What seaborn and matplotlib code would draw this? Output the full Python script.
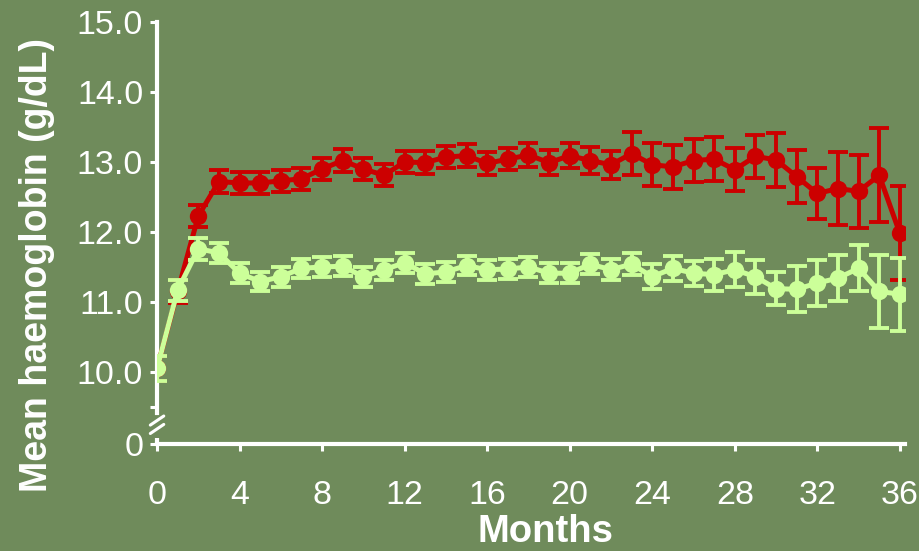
import numpy as np
import pandas as pd
import matplotlib
matplotlib.use("Agg")
import matplotlib.pyplot as plt
import seaborn as sns

# Mean haemoglobin (g/dL) by month, two treatment groups
months = list(range(37))
red_hb = [10.05, 11.15, 12.23, 12.72, 12.70, 12.70, 12.73, 12.76, 12.90, 13.02,
          12.90, 12.81, 13.00, 12.99, 13.07, 13.09, 12.98, 13.04, 13.10, 12.99,
          13.09, 13.02, 12.96, 13.12, 12.96, 12.93, 13.02, 13.04, 12.89, 13.08,
          13.03, 12.79, 12.55, 12.62, 12.58, 12.81, 11.98]
red_err = [0.18, 0.16, 0.16, 0.16, 0.16, 0.16, 0.16, 0.16, 0.16, 0.16,
           0.16, 0.16, 0.16, 0.16, 0.16, 0.16, 0.16, 0.16, 0.17, 0.18,
           0.18, 0.19, 0.20, 0.31, 0.31, 0.31, 0.31, 0.31, 0.31, 0.31,
           0.39, 0.38, 0.37, 0.52, 0.52, 0.67, 0.67]
green_hb = [10.05, 11.17, 11.76, 11.70, 11.41, 11.29, 11.36, 11.48, 11.50, 11.51,
            11.36, 11.46, 11.56, 11.40, 11.43, 11.52, 11.46, 11.47, 11.50, 11.41,
            11.41, 11.54, 11.46, 11.54, 11.36, 11.48, 11.41, 11.39, 11.46, 11.36,
            11.19, 11.18, 11.27, 11.34, 11.48, 11.15, 11.11]
green_err = [0.18, 0.15, 0.16, 0.14, 0.14, 0.14, 0.14, 0.14, 0.14, 0.14,
             0.14, 0.14, 0.14, 0.14, 0.14, 0.14, 0.14, 0.14, 0.14, 0.14,
             0.14, 0.14, 0.15, 0.16, 0.18, 0.18, 0.18, 0.23, 0.25, 0.24,
             0.24, 0.33, 0.33, 0.33, 0.33, 0.52, 0.52]

x_ticks = [0, 4, 8, 12, 16, 20, 24, 28, 32, 36]
y_ticks = [8.97, 9.5, 10, 11, 12, 13, 14, 15]
y_tick_labels = ["0", "", "10.0", "11.0", "12.0", "13.0", "14.0", "15.0"]

BG = "#6f8b5b"
RED = "#cc0000"
GREEN = "#ccff99"
WHITE = "white"

sns.set_theme(style="white")
plt.rcParams["font.family"] = ["Liberation Sans", "DejaVu Sans"]

df = pd.DataFrame({
    "month": months * 2,
    "hb": red_hb + green_hb,
    "group": ["red"] * len(months) + ["green"] * len(months),
})

fig = plt.figure(figsize=(9.2, 5.51), dpi=100, facecolor=BG)
ax = fig.add_axes([0.1707, 0.1942, 0.8130, 0.7659])
ax.set_facecolor(BG)

for grp, col, err, z in [("red", RED, red_err, 2), ("green", GREEN, green_err, 4)]:
    sub = df[df["group"] == grp]
    ax.errorbar(sub["month"], sub["hb"], yerr=err, fmt="none", ecolor=col,
                elinewidth=2.8, capsize=7, capthick=2.8, zorder=z)
    sns.lineplot(data=sub, x="month", y="hb", color=col, linewidth=3.6,
                 marker="o", markersize=12.5, markeredgewidth=0,
                 ax=ax, zorder=z + 1, legend=False)

ax.set_xlim(0, 36.25)
ax.set_ylim(8.97, 15.0)
ax.set_xticks(x_ticks)
ax.set_xticklabels([str(t) for t in x_ticks])
ax.set_yticks(y_ticks)
ax.set_yticklabels(y_tick_labels)

ax.tick_params(axis="both", colors=WHITE, labelsize=24.5, length=5, width=2.2,
               direction="out", labelcolor=WHITE)
ax.tick_params(axis="y", left=True, pad=5)
ax.tick_params(axis="x", bottom=True, pad=21)

for s in ["top", "right"]:
    ax.spines[s].set_visible(False)
for s in ["left", "bottom"]:
    ax.spines[s].set_color(WHITE)
    ax.spines[s].set_linewidth(3)
ax.spines["left"].set_bounds(9.42, 15.0)

# lower stub of the broken y axis and the break marks
trans = ax.get_yaxis_transform()
ax.plot([0, 0], [8.97, 9.05], color=WHITE, lw=3, transform=trans,
        clip_on=False, solid_capstyle="butt", zorder=6)
for y0 in (9.12, 9.24):
    ax.plot([-0.009, 0.009], [y0, y0 + 0.13], color=WHITE, lw=2.2,
            transform=trans, clip_on=False, zorder=6)

ax.set_xlabel("Months", color=WHITE, fontsize=27.5, fontweight="bold")
ax.xaxis.set_label_coords(0.519, -0.166)
ax.set_ylabel("Mean haemoglobin (g/dL)", color=WHITE, fontsize=27,
              fontweight="bold")
ax.yaxis.set_label_coords(-0.136, 0.424)

fig.savefig("out.png", dpi=100, facecolor=BG)
